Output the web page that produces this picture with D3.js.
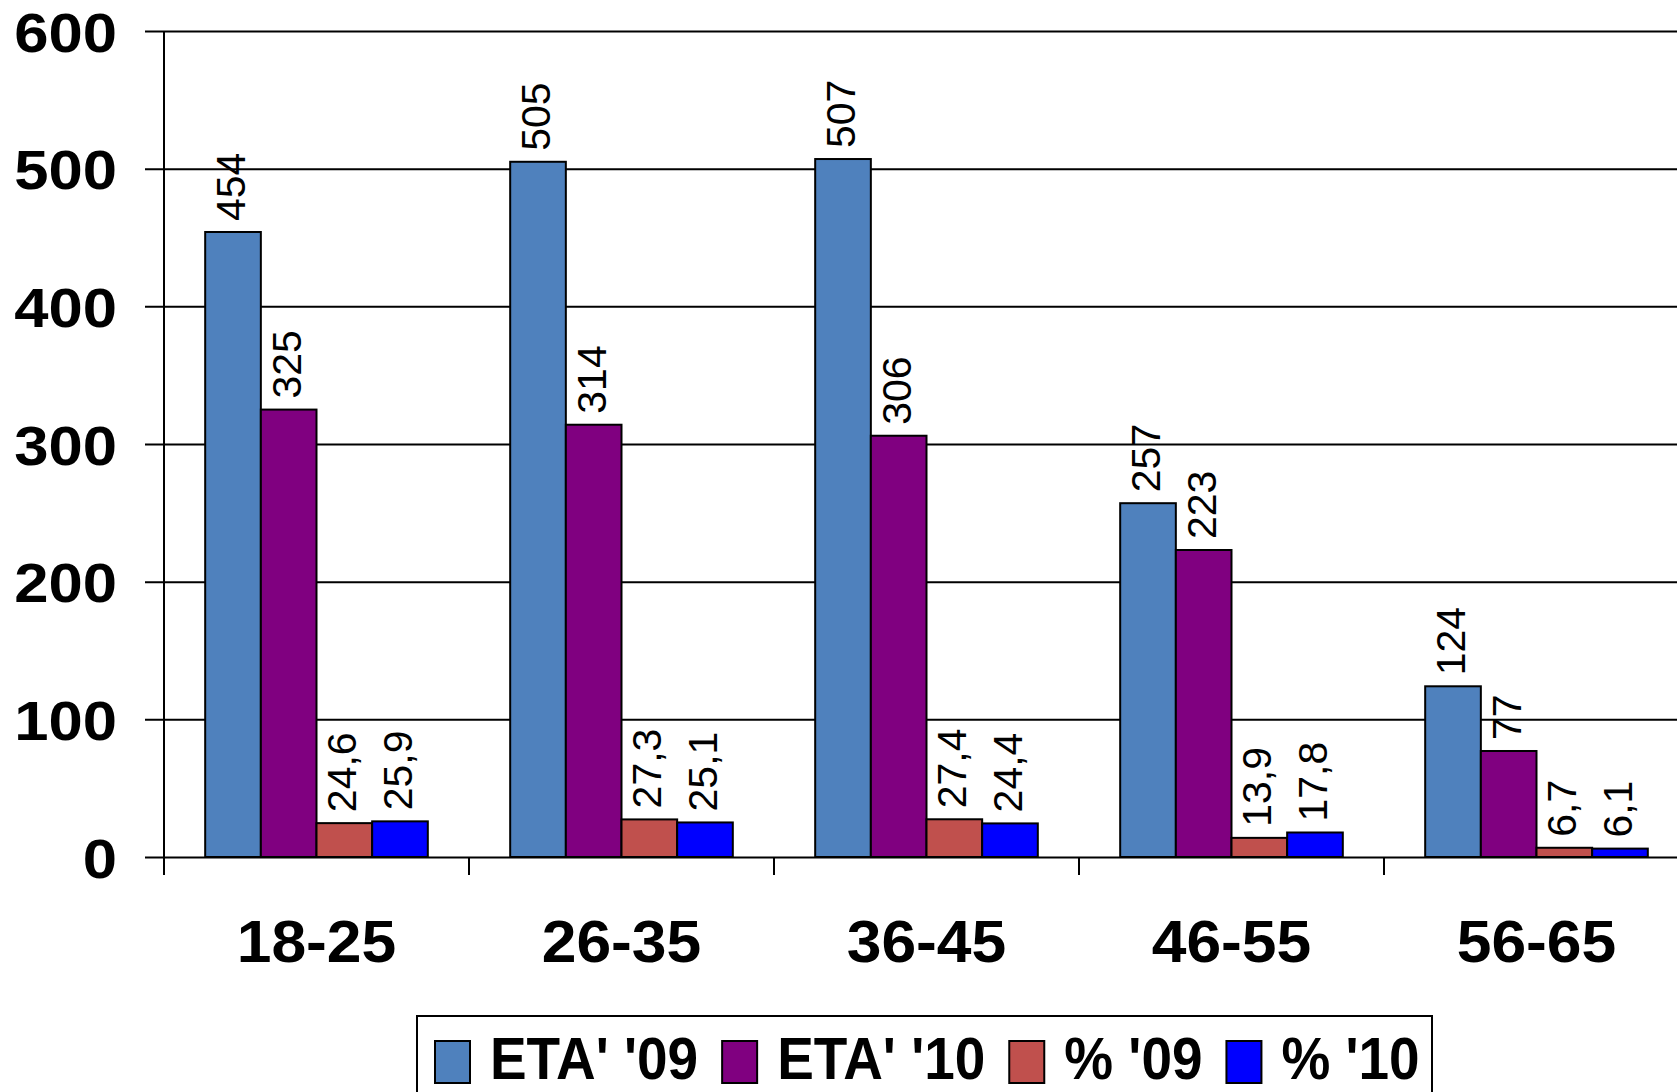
<!DOCTYPE html>
<html>
<head>
<meta charset="utf-8">
<script src="https://cdn.jsdelivr.net/npm/d3@7"></script>
<style>
  html, body { margin: 0; padding: 0; background: #fff; overflow: hidden; }
  svg { display: block; font-family: "Liberation Sans", Arial, sans-serif; }
</style>
</head>
<body>
<svg id="chart" width="1677" height="1092"></svg>
<script>
// Age groups and the four series
const categories = ["18-25", "26-35", "36-45", "46-55", "56-65"];
const eta09 = [454, 505, 507, 257, 124];
const eta10 = [325, 314, 306, 223, 77];
const pct09 = [24.6, 27.3, 27.4, 13.9, 6.7];
const pct10 = [25.9, 25.1, 24.4, 17.8, 6.1];
const seriesNames = ["ETA' '09", "ETA' '10", "% '09", "% '10"];
const seriesColors = ["#4F81BD", "#800080", "#C0504D", "#0000FF"];
const yTicks = [0, 100, 200, 300, 400, 500, 600];

const series = [
  { name: seriesNames[0], color: seriesColors[0], values: eta09, decimals: 0 },
  { name: seriesNames[1], color: seriesColors[1], values: eta10, decimals: 0 },
  { name: seriesNames[2], color: seriesColors[2], values: pct09, decimals: 1 },
  { name: seriesNames[3], color: seriesColors[3], values: pct10, decimals: 1 }
];

const itLocale = d3.formatLocale({ decimal: ",", thousands: ".", grouping: [3], currency: ["", " €"] });
const fmtInt = itLocale.format("d");
const fmtDec = itLocale.format(".1f");

const svg = d3.select("#chart");
const W = 1677;
const plotLeft = 164, plotBase = 857, plotTop = 31;
const step = 305;

const x0 = d3.scaleBand().domain(categories).range([plotLeft, plotLeft + step * categories.length]).padding(0);
const x1 = d3.scaleBand().domain(seriesNames).range([0, x0.bandwidth()]).paddingInner(0).paddingOuter(0.74);
const y = d3.scaleLinear().domain([0, 600]).range([plotBase, plotTop]);

// Stretch a text element horizontally by a factor
function stretch(sel, k) {
  sel.each(function () {
    d3.select(this)
      .attr("textLength", this.getComputedTextLength() * k)
      .attr("lengthAdjust", "spacingAndGlyphs");
  });
}

// Horizontal gridlines with value labels
const yAxis = svg.append("g")
  .attr("transform", `translate(${plotLeft},0)`)
  .call(d3.axisLeft(y).tickValues(yTicks).tickSize(-(W - plotLeft + 20)).tickPadding(47));
yAxis.select(".domain").remove();
yAxis.selectAll(".tick line")
  .attr("x1", -19)
  .attr("stroke", "#000")
  .attr("stroke-width", 2);
yAxis.selectAll(".tick text")
  .attr("font-family", "Liberation Sans, Arial, sans-serif")
  .attr("font-size", 56)
  .attr("font-weight", "bold")
  .attr("fill", "#000")
  .attr("dy", "0.36em")
  .call(stretch, 1.1);

// Bars
const groups = svg.append("g").selectAll("g")
  .data(categories)
  .join("g")
  .attr("transform", c => `translate(${x0(c)},0)`);

groups.selectAll("rect")
  .data((c, i) => series.map(s => ({ s, v: s.values[i] })))
  .join("rect")
  .attr("x", d => x1(d.s.name))
  .attr("y", d => y(d.v))
  .attr("width", x1.bandwidth())
  .attr("height", d => plotBase - y(d.v))
  .attr("fill", d => d.s.color)
  .attr("stroke", "#000")
  .attr("stroke-width", 2);

// Rotated value labels above each bar
groups.selectAll("text.val")
  .data((c, i) => series.map(s => ({ s, v: s.values[i] })))
  .join("text")
  .attr("class", "val")
  .attr("transform", d => `translate(${x1(d.s.name) + x1.bandwidth() / 2 + 12},${y(d.v) - 11}) rotate(-90)`)
  .attr("font-size", 41)
  .attr("fill", "#000")
  .text(d => d.s.decimals ? fmtDec(d.v) : fmtInt(d.v));

// Vertical axis line
svg.append("line")
  .attr("x1", plotLeft).attr("x2", plotLeft)
  .attr("y1", plotTop).attr("y2", plotBase + 18)
  .attr("stroke", "#000").attr("stroke-width", 2);

// Category ticks and labels
const xAxis = svg.append("g");
xAxis.selectAll("line")
  .data(categories)
  .join("line")
  .attr("x1", c => x0(c)).attr("x2", c => x0(c))
  .attr("y1", plotBase).attr("y2", plotBase + 18)
  .attr("stroke", "#000").attr("stroke-width", 2);
xAxis.selectAll("text")
  .data(categories)
  .join("text")
  .attr("x", c => x0(c) + x0.bandwidth() / 2)
  .attr("y", plotBase + 105)
  .attr("text-anchor", "middle")
  .attr("font-size", 60)
  .attr("font-weight", "bold")
  .attr("fill", "#000")
  .text(c => c)
  .call(stretch, 1.04);

// Legend
const legend = svg.append("g");
legend.append("rect")
  .attr("x", 417).attr("y", 1016)
  .attr("width", 1015).attr("height", 120)
  .attr("fill", "#fff")
  .attr("stroke", "#000").attr("stroke-width", 2);

const legendSquash = 0.915;
let lx = 435;
series.forEach(s => {
  legend.append("rect")
    .attr("x", lx).attr("y", 1041)
    .attr("width", 35).attr("height", 42)
    .attr("fill", s.color)
    .attr("stroke", "#000").attr("stroke-width", 2);
  const t = legend.append("text")
    .attr("transform", `translate(${lx + 55},1079) scale(${legendSquash},1)`)
    .attr("font-size", 60)
    .attr("font-weight", "bold")
    .attr("fill", "#000")
    .text(s.name);
  const w = t.node().getComputedTextLength() * legendSquash;
  lx = lx + 55 + w + 24;
});
</script>
</body>
</html>
